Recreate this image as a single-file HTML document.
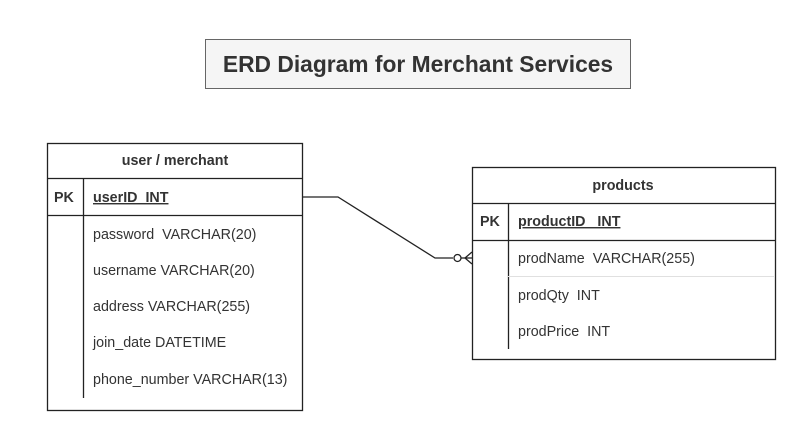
<!DOCTYPE html>
<html><head><style>
body{margin:0;background:#fff;}
svg text{font-family:"Liberation Sans",Arial,sans-serif;fill:#333;white-space:pre;}
</style></head><body>
<svg width="797" height="429" xmlns="http://www.w3.org/2000/svg" xml:space="preserve">
<rect x="205.5" y="39.5" width="425" height="49" fill="#f5f5f5" stroke="#666"/>
<text x="418" y="72" font-size="22.8" font-weight="bold" text-anchor="middle">ERD Diagram for Merchant Services</text>

<g stroke="#222" stroke-width="1.3" fill="none">
<rect x="47.5" y="143.5" width="255" height="267" fill="#fff"/>
<line x1="47" y1="178.5" x2="302" y2="178.5"/>
<line x1="47" y1="215.5" x2="302" y2="215.5"/>
<line x1="83.5" y1="179" x2="83.5" y2="398"/>

<rect x="472.5" y="167.5" width="303" height="192" fill="#fff"/>
<line x1="472" y1="203.5" x2="775" y2="203.5"/>
<line x1="472" y1="240.5" x2="775" y2="240.5"/>
<line x1="508.5" y1="204" x2="508.5" y2="349"/>

<polyline points="302,197 338,197 435,258 453,258"/>
<circle cx="457.5" cy="258" r="3.5"/>
<line x1="461" y1="258" x2="472" y2="258"/>
<line x1="465" y1="258" x2="472" y2="252"/>
<line x1="465" y1="258" x2="472" y2="264"/>
</g>
<line x1="508" y1="276.5" x2="775" y2="276.5" stroke="#e0e0e0"/>

<g font-size="14.3">
<text x="175" y="165" text-anchor="middle" font-weight="bold">user / merchant</text>
<text x="54" y="202" font-weight="bold">PK</text>
<text x="93" y="202" font-weight="bold" text-decoration="underline">userID  INT</text>
<text x="93" y="239">password  VARCHAR(20)</text>
<text x="93" y="275">username VARCHAR(20)</text>
<text x="93" y="311">address VARCHAR(255)</text>
<text x="93" y="347">join_date DATETIME</text>
<text x="93" y="384">phone_number VARCHAR(13)</text>

<text x="623" y="190" text-anchor="middle" font-weight="bold">products</text>
<text x="480" y="226" font-weight="bold">PK</text>
<text x="518" y="226" font-weight="bold" text-decoration="underline">productID   INT</text>
<text x="518" y="263">prodName  VARCHAR(255)</text>
<text x="518" y="300">prodQty  INT</text>
<text x="518" y="336">prodPrice  INT</text>
</g>
</svg>
</body></html>
